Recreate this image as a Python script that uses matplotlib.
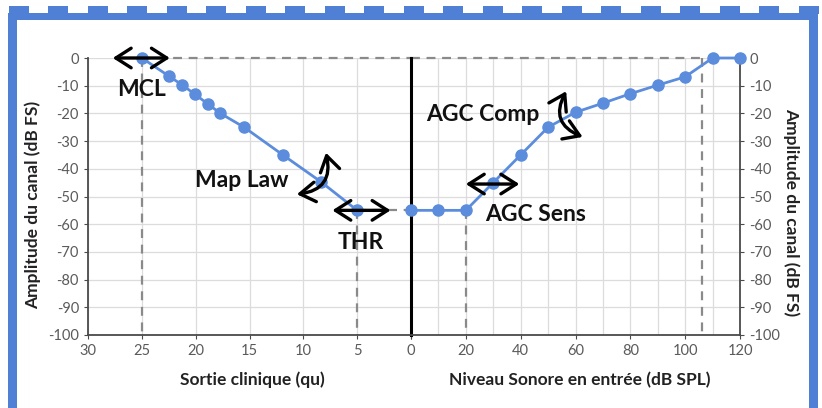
import matplotlib
matplotlib.use('Agg')
import matplotlib.pyplot as plt
from matplotlib.patches import Rectangle, FancyArrowPatch
from matplotlib.ticker import MultipleLocator

plt.rcParams['font.family'] = ['Lato', 'DejaVu Sans']

# ---- data ----
clin_x = [25, 22.5, 21.3, 20.1, 18.9, 17.7, 15.5, 11.9, 8.4, 5]
clin_y = [0, -6.5, -9.6, -13, -16.5, -20, -25, -35, -44.6, -55]
spl_x = [0, 10, 20, 30, 40, 50, 60, 70, 80, 90, 100, 110, 120]
spl_y = [-55, -55, -55, -45, -35, -25, -19.6, -16.3, -12.9, -9.8, -6.8, 0, 0]
y_ticks = [0, -10, -20, -30, -40, -50, -60, -70, -80, -90, -100]
left_xticks = [30, 25, 20, 15, 10, 5, 0]
right_xticks = [0, 20, 40, 60, 80, 100, 120]
mcl_x, mcl_y = 25, 0
thr_x, thr_y = 5, -55
sens_x, sens_y = 20, -55
sat_x = 106
ylabel = 'Amplitude du canal (dB FS)'
xlabel_left = 'Sortie clinique (qu)'
xlabel_right = 'Niveau Sonore en entrée (dB SPL)'

BLUE = '#5B8DDC'
FRAME = '#4F80D6'
GRID = '#dcdcdc'
SPINE = '#4a4a4a'
TICKC = '#5a5a5a'

W, H = 822, 408
fig = plt.figure(figsize=(W / 100, H / 100), dpi=100)
bg = fig.add_axes([0, 0, 1, 1], zorder=0)
bg.set_xlim(0, W)
bg.set_ylim(H, 0)
bg.axis('off')

# decorative frame
bg.add_patch(Rectangle((8, 13), 9, H - 13, color=FRAME, lw=0))
bg.add_patch(Rectangle((809, 13), 9, H - 13, color=FRAME, lw=0))
bg.add_patch(Rectangle((8, 13), 810, 7, color=FRAME, lw=0))
for k in range(21):
    x0 = 8.5 + 39.5 * k
    bg.add_patch(Rectangle((x0, 6), 20, 8, color=FRAME, lw=0))

def px(x0, x1, y0, y1):
    return [x0 / W, 1 - y1 / H, (x1 - x0) / W, (y1 - y0) / H]

ax1 = fig.add_axes(px(88, 411, 58, 335), zorder=2)
ax2 = fig.add_axes(px(411, 740, 58, 335), zorder=2)
for a in (ax1, ax2):
    a.set_facecolor('none')
    a.set_ylim(-100, 0)
    a.set_yticks(y_ticks)
    a.grid(True, which='both', color=GRID, lw=0.9, zorder=0)
    a.spines['top'].set_visible(False)
    a.tick_params(colors=SPINE, labelcolor=TICKC, labelsize=10.5, length=3, width=0.8)
    a.set_axisbelow(True)

ax1.set_xlim(30, 0)
ax1.set_xticks(left_xticks)
ax1.set_xticklabels([str(v) for v in left_xticks])
ax1.set_yticklabels([str(v) for v in y_ticks])
ax1.spines['right'].set_visible(False)
for s in ('left', 'bottom'):
    ax1.spines[s].set_color(SPINE)
    ax1.spines[s].set_linewidth(1.3)

ax2.set_xlim(0, 120)
ax2.set_xticks(right_xticks)
ax2.set_xticklabels([''] + [str(v) for v in right_xticks[1:]])
ax2.xaxis.set_minor_locator(MultipleLocator(10))
ax2.tick_params(which='minor', length=0)
ax2.yaxis.tick_right()
ax2.set_yticklabels([str(v) for v in y_ticks])
ax2.spines['left'].set_color('black')
ax2.spines['left'].set_linewidth(2.2)
for s in ('right', 'bottom'):
    ax2.spines[s].set_color(SPINE)
    ax2.spines[s].set_linewidth(1.3)

# dashed guides
dash = dict(color='#8a8a8a', lw=1.6, ls=(0, (4, 3)), zorder=1.5)
ax1.plot([mcl_x, mcl_x], [mcl_y, -100], **dash)
ax1.plot([mcl_x, 0], [mcl_y, mcl_y], **dash, clip_on=False)
ax1.plot([thr_x, thr_x], [thr_y, -100], **dash)
ax1.plot([thr_x, 0], [thr_y, thr_y], **dash)
ax2.plot([0, sat_x], [0, 0], **dash, clip_on=False)
ax2.plot([sens_x, sens_x], [sens_y, -100], **dash)
ax2.plot([sat_x, sat_x], [0, -100], **dash, clip_on=False)

# curves
ax1.plot(clin_x, clin_y, color=BLUE, lw=2, marker='o', ms=8, zorder=3, clip_on=False)
ax2.plot(spl_x, spl_y, color=BLUE, lw=2, marker='o', ms=8, zorder=3, clip_on=False)

# annotations
tkw = dict(fontsize=16.5, fontweight='bold', ha='center', va='center', color='#111111', zorder=5)
ax1.text(25.0, -11.5, 'MCL', **tkw)
ax1.text(15.7, -44.3, 'Map Law', **tkw)
ax1.text(4.65, -66.7, 'THR', **tkw)
ax2.text(26.3, -20.5, 'AGC Comp', **tkw)
ax2.text(45.3, -56.6, 'AGC Sens', **tkw)

akw = dict(arrowstyle='<->,head_length=0.5,head_width=0.32', mutation_scale=22,
           lw=2.4, color='black', zorder=6, clip_on=False, shrinkA=0, shrinkB=0)
ax1.add_patch(FancyArrowPatch((27.7, 0), (22.4, 0), **akw))
ax1.add_patch(FancyArrowPatch((7.3, -55), (1.9, -55), **akw))
ax2.add_patch(FancyArrowPatch((20, -45.5), (39.5, -45.5), **akw))
ax1.add_patch(FancyArrowPatch((7.9, -34.2), (10.6, -49.2),
                              connectionstyle='arc3,rad=-0.55', **akw))
ax2.add_patch(FancyArrowPatch((56.6, -12), (62.6, -28.5),
                              connectionstyle='arc3,rad=0.55', **akw))

# axis labels
lkw = dict(fontsize=12.5, fontweight='bold', color='#222222', ha='center', va='center')
bg.text(33, 205, ylabel, rotation=90, **lkw)
bg.text(791, 212, ylabel, rotation=270, **lkw)
bg.text(252, 380, xlabel_left, **lkw)
bg.text(580, 380, xlabel_right, **lkw)

fig.savefig('out.png', dpi=100)
